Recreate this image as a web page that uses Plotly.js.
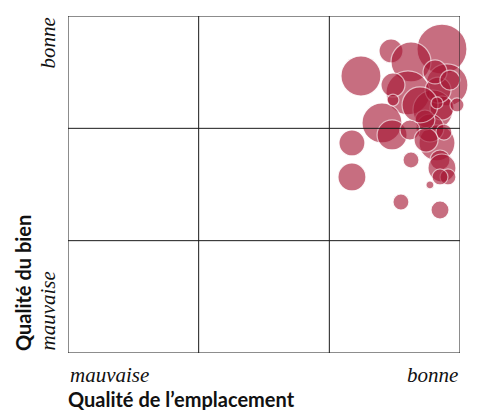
<!DOCTYPE html>
<html><head><meta charset="utf-8">
<script src="https://cdn.plot.ly/plotly-3.0.1.min.js"></script>
<style>body{margin:0;background:#fff}#c{width:478px;height:410px}</style>
</head><body><div id="c"></div>
<script>
const emplacement = [2.862,2.242,2.472,2.625,2.900,2.602,2.487,2.793,2.862,2.832,2.403,2.480,2.824,2.770,3.015,2.173,2.173,2.625,2.847,2.862,2.908,2.847,2.770,2.548,2.847,2.732,2.809,2.923,2.694,2.877,2.617,2.740,2.824,2.977,2.487];
const bien        = [2.706,2.466,2.689,2.591,2.386,2.315,2.386,2.163,2.181,2.341,2.048,1.941,1.870,2.003,1.780,1.870,1.567,1.718,1.718,1.647,1.567,1.567,1.496,1.344,1.273,2.074,2.502,2.430,2.208,1.967,1.985,1.896,2.226,2.208,2.252];
const taille      = [50,40,24,40,42,44,24,40,24,26,40,30,36,28,34,26,28,16,20,28,16,16,8,16,18,20,24,20,36,16,20,24,12,14,12];
const xTickLabels = ['mauvaise','bonne'];
const yTickLabels = ['mauvaise','bonne'];
const xTitle = 'Qualité de l’emplacement';
const yTitle = 'Qualité du bien';

const trace = {
  type:'scatter', mode:'markers', x:emplacement, y:bien, cliponaxis:false,
  marker:{size:taille, sizemode:'diameter', color:'rgb(166,22,52)', opacity:0.62,
          line:{color:'rgba(255,255,255,0.9)', width:1.2}},
  hoverinfo:'skip'
};
const lineCol = '#1a1a1a';
const shapes = [
  {type:'rect', xref:'x', yref:'y', x0:0, x1:3, y0:0, y1:3, line:{color:lineCol, width:1}},
  {type:'line', xref:'x', yref:'y', x0:1, x1:1, y0:0, y1:3, line:{color:lineCol, width:1}},
  {type:'line', xref:'x', yref:'y', x0:2, x1:2, y0:0, y1:3, line:{color:lineCol, width:1}},
  {type:'line', xref:'x', yref:'y', x0:0, x1:3, y0:1, y1:1, line:{color:lineCol, width:1}},
  {type:'line', xref:'x', yref:'y', x0:0, x1:3, y0:2, y1:2, line:{color:lineCol, width:1}}
];
const tickFont = {family:'Liberation Serif, DejaVu Serif, serif', size:21, color:'#111', style:'italic'};
const titleFont = {family:'Lato, Open Sans, sans-serif', size:20, color:'#111', weight:'bold'};
const annotations = [
  {xref:'paper', yref:'paper', x:0, y:0, xanchor:'left', yanchor:'top', yshift:-8, text:'<i>'+xTickLabels[0]+'</i>', showarrow:false, font:tickFont},
  {xref:'paper', yref:'paper', x:1, y:0, xanchor:'right', yanchor:'top', yshift:-8, text:'<i>'+xTickLabels[1]+'</i>', showarrow:false, font:tickFont},
  {xref:'paper', yref:'paper', x:0, y:0, xanchor:'right', yanchor:'bottom', xshift:-7, textangle:-90, text:'<i>'+yTickLabels[0]+'</i>', showarrow:false, font:tickFont},
  {xref:'paper', yref:'paper', x:0, y:1, xanchor:'right', yanchor:'top', xshift:-7, textangle:-90, text:'<i>'+yTickLabels[1]+'</i>', showarrow:false, font:tickFont},
  {xref:'paper', yref:'paper', x:0, y:0, xanchor:'left', yanchor:'top', yshift:-32, xshift:-2, text:'<b>'+xTitle+'</b>', showarrow:false, font:titleFont},
  {xref:'paper', yref:'paper', x:0, y:0, xanchor:'right', yanchor:'bottom', xshift:-31, textangle:-90, text:'<b>'+yTitle+'</b>', showarrow:false, font:titleFont}
];
const layout = {
  width:478, height:410, margin:{l:68, r:18, t:16, b:57},
  paper_bgcolor:'#fff', plot_bgcolor:'#fff', showlegend:false,
  xaxis:{range:[0,3], showgrid:false, zeroline:false, showticklabels:false, ticks:'', showline:false},
  yaxis:{range:[0,3], showgrid:false, zeroline:false, showticklabels:false, ticks:'', showline:false},
  shapes:shapes, annotations:annotations
};
Plotly.newPlot('c', [trace], layout, {displayModeBar:false, staticPlot:true});
</script></body></html>
